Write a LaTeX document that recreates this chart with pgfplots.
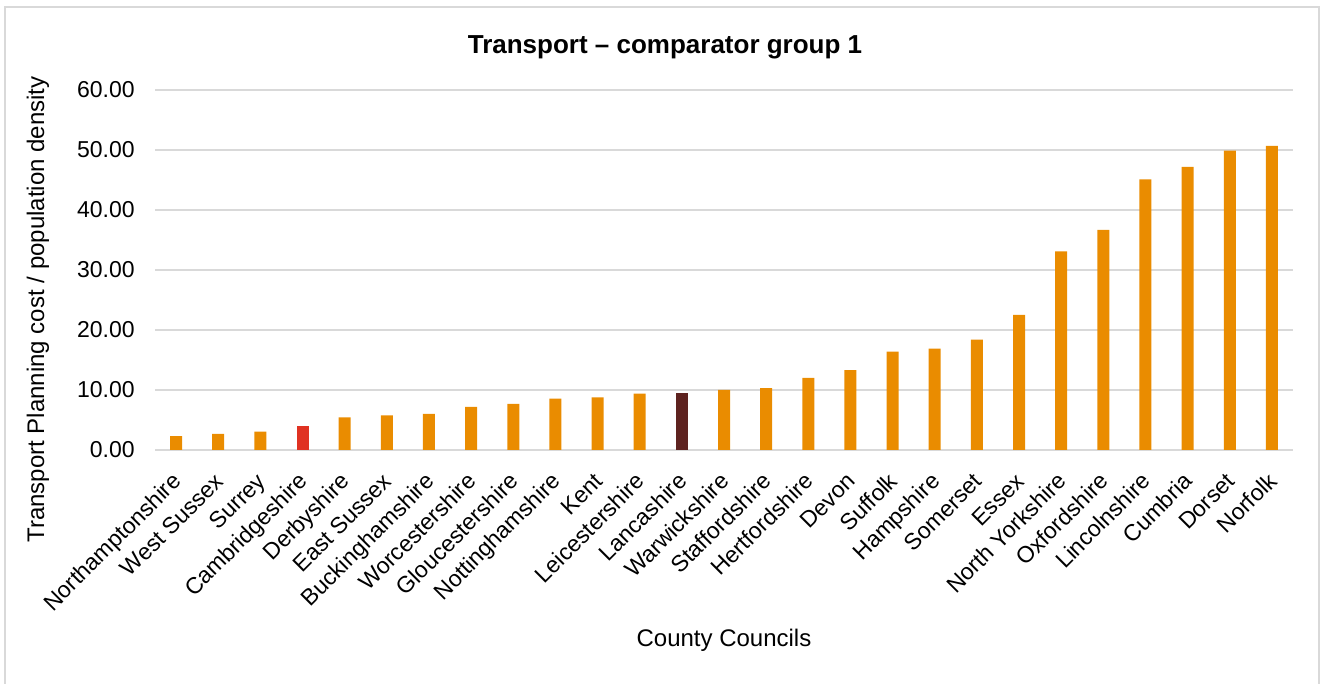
\documentclass[border=0pt]{standalone}
\usepackage{fontspec}
\setmainfont{Liberation Sans}
\usepackage{pgfplots}
\pgfplotsset{compat=1.18}
\definecolor{barorange}{HTML}{EA8C00}
\definecolor{barred}{HTML}{E03222}
\definecolor{barbrown}{HTML}{5E2320}
\definecolor{gridgray}{HTML}{D9D9D9}
\begin{document}
\begin{tikzpicture}[x=0.5pt,y=0.5pt]
\useasboundingbox (0,0) rectangle (1323,684);
\draw[gridgray, line width=1pt] (5,-20) -- (5,677) -- (1319,677) -- (1319,-20);
\begin{axis}[
  at={(77.5pt,117pt)}, anchor=south west,
  width=569pt, height=180pt, scale only axis,
  xmin=-0.5, xmax=26.5, ymin=0, ymax=60,
  ytick={0,10,...,60},
  xtick={0,...,26},
  xticklabels={Northamptonshire,West Sussex,Surrey,Cambridgeshire,Derbyshire,East Sussex,Buckinghamshire,Worcestershire,Gloucestershire,Nottinghamshire,Kent,Leicestershire,Lancashire,Warwickshire,Staffordshire,Hertfordshire,Devon,Suffolk,Hampshire,Somerset,Essex,North Yorkshire,Oxfordshire,Lincolnshire,Cumbria,Dorset,Norfolk},
  axis line style={draw=none},
  major tick length=0pt,
  ymajorgrids, grid style={gridgray, line width=1pt},
  tick label style={font=\fontsize{11.5}{13}\selectfont, text=black},
  yticklabel style={/pgf/number format/.cd, fixed, fixed zerofill, precision=2, assume math mode=true, /tikz/.cd, anchor=east, inner sep=0pt, xshift=-10pt},
  xticklabel style={xshift=1.5pt, yshift=-14.5pt, rotate=45, anchor=east, inner sep=0pt, text height=0.72em, text depth=0.21em},
  ybar, bar width=6pt, bar shift=0pt,
  clip=false,
]
\addplot[fill=barorange, draw=none] coordinates {
(0,2.33) (1,2.67) (2,3.05) (4,5.43) (5,5.77) (6,6.0) (7,7.2) (8,7.67) (9,8.55) (10,8.77) (11,9.38)
(13,10.0) (14,10.3) (15,12.0) (16,13.3) (17,16.4) (18,16.9) (19,18.4) (20,22.5) (21,33.1) (22,36.7) (23,45.1) (24,47.2) (25,49.9) (26,50.7)};
\addplot[fill=barred, draw=none] coordinates {(3,4.05)};
\addplot[fill=barbrown, draw=none] coordinates {(12,9.55)};
\end{axis}
\node[font=\fontsize{13}{15}\selectfont\bfseries] at (665,637) {Transport – comparator group 1};
\node[font=\fontsize{12}{14}\selectfont, rotate=90] at (38,374.5) {Transport Planning cost / population density};
\node[font=\fontsize{12}{14}\selectfont] at (724,43.3) {County Councils};
\end{tikzpicture}
\end{document}
